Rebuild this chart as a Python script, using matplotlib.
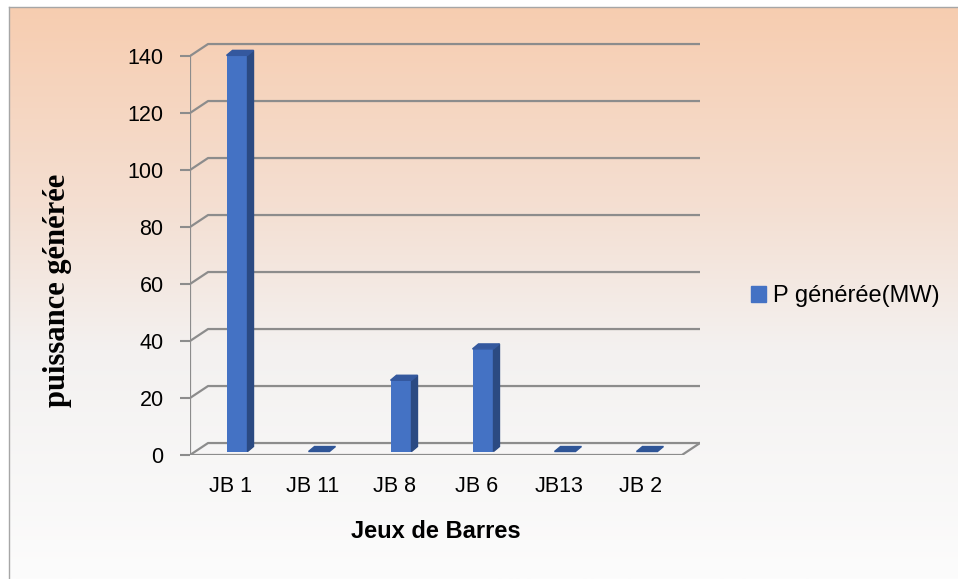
import matplotlib
matplotlib.use("Agg")
import matplotlib.pyplot as plt
import numpy as np
from matplotlib.colors import LinearSegmentedColormap
from matplotlib.lines import Line2D
from matplotlib.patches import Polygon, Patch

plt.rcParams['font.family'] = ['Liberation Sans', 'DejaVu Sans']

# donnees
categories = ["JB 1", "JB 11", "JB 8", "JB 6", "JB13", "JB 2"]
p_generee = [139, 0, 25, 36, 0, 0]
yticks = [0, 20, 40, 60, 80, 100, 120, 140]
serie = "P générée(MW)"

grille = "#8c8c8c"
face = "#4472c4"
cote = "#2b4a82"
dessus = "#34589e"

fig = plt.figure(figsize=(9.58, 5.79), dpi=100)

# fond degrade
x0 = 9 / 958
y1 = 1 - 7 / 579
bg = fig.add_axes([x0, 0, 1 - x0, y1])
cmap = LinearSegmentedColormap.from_list(
    "fond", [(0.0, "#f7cdb0"), (0.35, "#f4dfd2"), (0.6, "#f3f1f0"), (1.0, "#fcfcfc")])
grad = np.linspace(0, 1, 256).reshape(-1, 1)
bg.imshow(grad, cmap=cmap, aspect="auto", extent=[0, 1, 0, 1], origin="upper")
bg.axis("off")
fig.add_artist(Line2D([x0, x0], [0, y1], transform=fig.transFigure, color="#a6a6a6", lw=1))
fig.add_artist(Line2D([x0, 1], [y1, y1], transform=fig.transFigure, color="#a6a6a6", lw=1))

ax = fig.add_axes([190 / 958, (579 - 455) / 579, 510 / 958, 427.5 / 579])
ax.patch.set_alpha(0)
for s in ax.spines.values():
    s.set_visible(False)

n = len(categories)
dx, dy = 0.22, 4.2  # profondeur du graphique 3D
ax.set_xlim(0, n + dx)
ax.set_ylim(0, 150)

# murs et grille
for v in yticks:
    ax.plot([0, dx, n + dx], [v, v + dy, v + dy], color=grille, lw=1.6, zorder=1)
ax.plot([0, n, n + dx], [0, 0, dy], color=grille, lw=1.6, zorder=1)
ax.plot([0, 0], [0, yticks[-1]], color=grille, lw=1.6, zorder=1)

# barres 3D
centres = np.arange(n) + 0.5
bw = 0.256
bdx, bdy = 0.073, 1.75
offx = (dx - bdx) / 2
offy = (dy - bdy) / 2
ax.bar(centres + offx, p_generee, width=bw, bottom=offy, color=face, zorder=3)
for c, v in zip(centres, p_generee):
    xl = c + offx - bw / 2
    xr = c + offx + bw / 2
    yt = offy + v
    if v > 0:
        ax.add_patch(Polygon([[xr, offy], [xr + bdx, offy + bdy], [xr + bdx, yt + bdy], [xr, yt]],
                             closed=True, color=cote, zorder=3))
    ax.add_patch(Polygon([[xl, yt], [xr, yt], [xr + bdx, yt + bdy], [xl + bdx, yt + bdy]],
                         closed=True, color=dessus if v > 0 else "#2f5597", zorder=3))

ax.set_yticks(yticks)
ax.set_yticklabels([str(t) for t in yticks])
ax.tick_params(axis="y", length=7, width=1.5, color=grille, pad=12, labelsize=15.5)
ax.set_xticks(centres)
ax.set_xticklabels(categories)
ax.tick_params(axis="x", length=0, pad=15, labelsize=15.5)

fig.text(436 / 958, 1 - 531 / 579, "Jeux de Barres", fontsize=17, fontweight="bold",
         ha="center", va="center")
fig.text(57 / 958, 1 - 290 / 579, "puissance générée", fontsize=22, fontweight="bold",
         family="Liberation Serif", rotation=90, ha="center", va="center")

ax.legend(handles=[Patch(color=face, label=serie)], loc="center left",
          bbox_to_anchor=(751 / 958, 1 - 296 / 579), bbox_transform=fig.transFigure,
          frameon=False, fontsize=17, handlelength=0.64, handleheight=0.64,
          handletextpad=0.3, borderpad=0, borderaxespad=0)

fig.savefig("out.png", dpi=100)
